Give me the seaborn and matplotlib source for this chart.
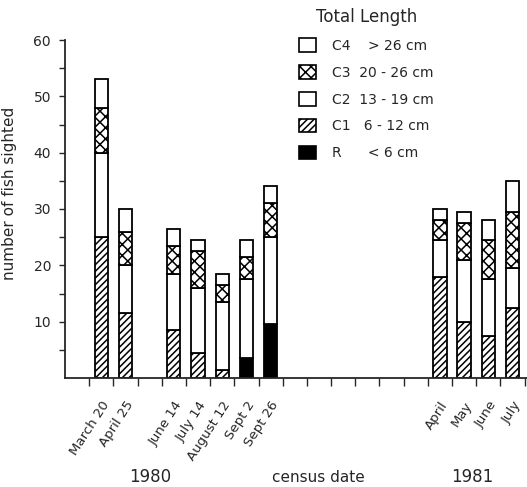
import numpy as np
import pandas as pd
import matplotlib
matplotlib.use('Agg')
import matplotlib.pyplot as plt
import seaborn as sns
from matplotlib.patches import Patch

# census dates and their slot on the time axis
dates = ['March 20', 'April 25', 'June 14', 'July 14', 'August 12', 'Sept 2', 'Sept 26',
         'April', 'May', 'June', 'July']
slots = [0, 1, 3, 4, 5, 6, 7, 14, 15, 16, 17]

# number of fish sighted per size class
r_cls = [0, 0, 0, 0, 0, 3.5, 9.5, 0, 0, 0, 0]
c1 = [25, 11.5, 8.5, 4.5, 1.5, 0, 0, 18, 10, 7.5, 12.5]
c2 = [15, 8.5, 10, 11.5, 12, 14, 15.5, 6.5, 11, 10, 7]
c3 = [8, 6, 5, 6.5, 3, 4, 6, 3.5, 6.5, 7, 10]
c4 = [5, 4, 3, 2, 2, 3, 3, 2, 2, 3.5, 5.5]

classes = ['R', 'C1', 'C2', 'C3', 'C4']
class_labels = {'C4': 'C4    > 26 cm', 'C3': 'C3  20 - 26 cm', 'C2': 'C2  13 - 19 cm',
                'C1': 'C1   6 - 12 cm', 'R': 'R      < 6 cm'}
styles = {'R': dict(color='black', hatch=None),
          'C1': dict(color='white', hatch='/////'),
          'C2': dict(color='white', hatch=None),
          'C3': dict(color='white', hatch='xxx'),
          'C4': dict(color='white', hatch=None)}

df = pd.DataFrame({'date': dates, 'pos': slots, 'R': r_cls, 'C1': c1, 'C2': c2, 'C3': c3, 'C4': c4})

sns.set_style('ticks')
plt.rcParams['font.family'] = ['DejaVu Sans']
plt.rcParams['hatch.linewidth'] = 1.1

fig = plt.figure(figsize=(5.27, 4.87), dpi=100)
ax = fig.add_axes([65 / 527, 109 / 487, 462 / 527, 338 / 487])

bottom = np.zeros(len(df))
for cls in classes:
    sns.barplot(data=df, x='pos', y=cls, native_scale=True, errorbar=None, ax=ax,
                width=0.55, bottom=bottom, color=styles[cls]['color'],
                hatch=styles[cls]['hatch'], edgecolor='black', linewidth=1.3, saturation=1)
    bottom = bottom + df[cls].to_numpy()

ax.set_xlim(-1.5, 17.6)
ax.set_ylim(0, 60)
sns.despine(ax=ax)
ax.spines['left'].set_linewidth(1.3)
ax.spines['bottom'].set_linewidth(1.3)

ax.set_yticks(np.arange(10, 61, 10))
ax.set_yticks(np.arange(5, 60, 10), minor=True)
ax.tick_params(axis='y', which='both', direction='out', length=4, width=1, labelsize=10, pad=6)

ax.set_xticks(slots)
ax.set_xticklabels(dates)
ax.set_xticks(np.arange(-0.5, 18, 1), minor=True)
ax.tick_params(axis='x', which='major', length=0, labelsize=9.5, pad=15)
ax.tick_params(axis='x', which='minor', direction='out', length=6, width=1)
for lab in ax.get_xticklabels():
    lab.set_rotation(57)
    lab.set_ha('right')
    lab.set_va('top')
    lab.set_rotation_mode('anchor')

ax.set_xlabel('')
ax.set_ylabel('number of fish sighted', fontsize=11)
ax.yaxis.set_label_coords(-0.104, 0.546)

fig.text(150 / 527, 1 - 477 / 487, '1980', fontsize=12, ha='center', va='center')
fig.text(318 / 527, 1 - 477 / 487, 'census date', fontsize=11, ha='center', va='center')
fig.text(472 / 527, 1 - 477 / 487, '1981', fontsize=12, ha='center', va='center')

handles = [Patch(facecolor=styles[c]['color'], hatch=styles[c]['hatch'], edgecolor='black',
                 linewidth=1.2, label=class_labels[c]) for c in ['C4', 'C3', 'C2', 'C1', 'R']]
leg = ax.legend(handles=handles, title='Total Length', loc='upper left',
                bbox_to_anchor=(292 / 527, 1 - 1 / 487), bbox_transform=fig.transFigure,
                frameon=False, fontsize=10, title_fontsize=12, handlelength=1.25, handleheight=1.1,
                handletextpad=1.1, labelspacing=0.9, borderpad=0)
leg._legend_box.sep = 9

fig.savefig('out.png', dpi=100)
